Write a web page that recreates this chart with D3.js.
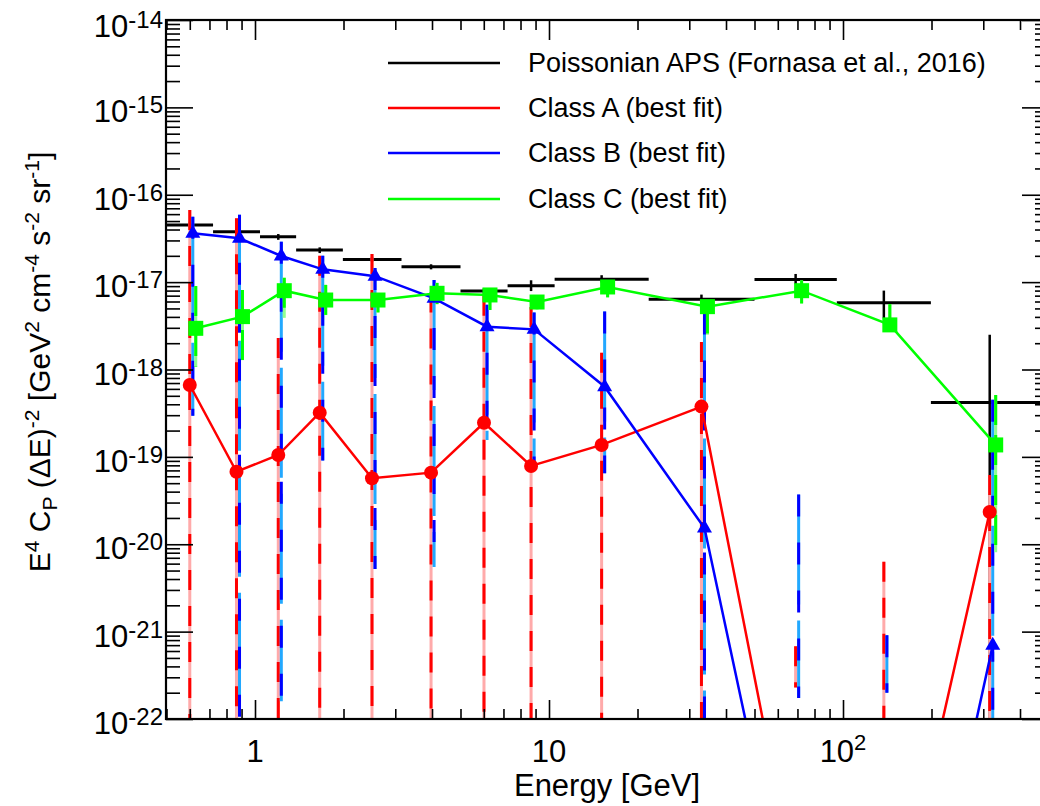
<!DOCTYPE html>
<html>
<head>
<meta charset="utf-8">
<script src="https://cdn.jsdelivr.net/npm/d3@7"></script>
<style>
body { margin: 0; background: #fff; }
text { font-family: "Liberation Sans", Arial, Helvetica, sans-serif; fill: #000; }
</style>
</head>
<body>
<script>
// energy bins [GeV]
const binLo = [0.5, 0.72, 1.04, 1.38, 1.99, 3.15, 5.0, 7.23, 10.45, 21.83, 50.0, 95.27, 199.05];
const binHi = [0.72, 1.04, 1.38, 1.99, 3.15, 5.0, 7.23, 10.45, 21.83, 50.0, 95.27, 199.05, 500];
const eCenter = [0.60, 0.865, 1.20, 1.66, 2.50, 3.97, 6.01, 8.69, 15.1, 33.0, 69.0, 137.7, 315.5];

// Poissonian APS (Fornasa et al. 2016)
const poisson   = [4.5e-17, 3.78e-17, 3.3e-17, 2.33e-17, 1.82e-17, 1.5e-17, 7.9e-18, 9.1e-18, 1.08e-17, 6.35e-18, 1.07e-17, 5.8e-18, 4.2e-19];
const poissonHi = [4.9e-17, 4.1e-17, 3.55e-17, 2.5e-17, 1.95e-17, 1.6e-17, 8.5e-18, 1.05e-17, 1.2e-17, 7.2e-18, 1.24e-17, 8.0e-18, 2.5e-18];
const poissonLo = [4.1e-17, 3.45e-17, 3.05e-17, 2.15e-17, 1.7e-17, 1.4e-17, 7.3e-18, 7.9e-18, 9.9e-18, 5.6e-18, 9.5e-18, 3.85e-18, null];

// best fits (null = lower end below the axis)
const classA   = [6.65e-19, 6.76e-20, 1.05e-19, 3.2e-19, 5.7e-20, 6.6e-20, 2.46e-19, 7.87e-20, 1.37e-19, 3.76e-19, 1.2e-24, 1.05e-25, 2.34e-20];
const classAHi = [6.7e-17, 5.4e-17, 2.3e-18, 2.0e-17, 2.1e-17, 7.6e-18, 7.0e-18, 5.2e-18, 1.55e-18, 2.07e-18, 6.8e-22, 6.3e-21, 6.2e-20];
const classALo = [null, null, null, null, null, null, null, null, null, null, 2.3e-22, null, null];

const classB   = [3.62e-17, 3.17e-17, 1.99e-17, 1.4e-17, 1.17e-17, 6.52e-18, 3.09e-18, 2.88e-18, 6.35e-19, 1.53e-20, 1.4e-25, 2e-27, 7.0e-22];
const classBHi = [5.6e-17, 5.9e-17, 2.9e-17, 2.0e-17, 1.45e-17, 1.06e-17, 5.5e-18, 4.5e-18, 4.6e-18, 4.5e-18, 3.7e-20, 9.1e-22, 4.5e-19];
const classBLo = [2.95e-19, null, 1.6e-22, 9.1e-20, 5.2e-21, 5.5e-21, 1.56e-19, 7.1e-20, 6.5e-20, null, 1.74e-22, 2.0e-22, null];

const classC   = [2.96e-18, 4.03e-18, 7.98e-18, 6.24e-18, 6.24e-18, 7.45e-18, 7.13e-18, 5.92e-18, 8.8e-18, 5.24e-18, 7.98e-18, 3.24e-18, 1.37e-19];
const classCHi = [9.0e-18, 8.1e-18, 1.12e-17, 9.3e-18, 7.5e-18, 9.8e-18, 8.5e-18, 7.0e-18, 1.05e-17, 5.7e-18, 1.05e-17, 5.6e-18, 5.1e-19];
const classCLo = [1.08e-18, 1.28e-18, 3.9e-18, 4.2e-18, 4.5e-18, 5.6e-18, 4.8e-18, 4.9e-18, 6.7e-18, 2.5e-18, 5.7e-18, 2.8e-18, 8.1e-21];

const legendLabels = ["Poissonian APS (Fornasa et al., 2016)", "Class A (best fit)", "Class B (best fit)", "Class C (best fit)"];
const yMajor = [-14, -15, -16, -17, -18, -19, -20, -21, -22];
const xMajor = [1, 10, 100];

const svg = d3.select("body").append("svg")
    .attr("width", 1040)
    .attr("height", 806);

const pLeft = 166, pRight = 1049, pTop = 20, pBottom = 719;

const x = d3.scaleLog().domain([0.5, 500]).range([pLeft + 0.5, pRight - 0.5]);
const y = d3.scaleLog().domain([1e-22, 1e-14]).range([pBottom, pTop]);

// lower ends that fall below the axis go to the bottom
const yb = v => (v === null ? pBottom + 5 : y(v));

svg.append("clipPath").attr("id", "plot")
    .append("rect")
    .attr("x", pLeft).attr("y", pTop)
    .attr("width", pRight - pLeft).attr("height", pBottom - pTop);

const plot = svg.append("g").attr("clip-path", "url(#plot)");

// offsets so the classes don't sit exactly on top of each other
const shiftB = 1.024, shiftC = 1.048;

// black bars: horizontal bin width + vertical error
plot.append("g").selectAll("line")
    .data(poisson)
    .join("line")
    .attr("x1", (d, i) => x(binLo[i]))
    .attr("x2", (d, i) => x(binHi[i]))
    .attr("y1", d => y(d))
    .attr("y2", d => y(d))
    .attr("stroke", "#000")
    .attr("stroke-width", 3);

plot.append("g").selectAll("line")
    .data(poisson)
    .join("line")
    .attr("x1", (d, i) => x(eCenter[i]))
    .attr("x2", (d, i) => x(eCenter[i]))
    .attr("y1", (d, i) => y(poissonHi[i]))
    .attr("y2", (d, i) => yb(poissonLo[i]))
    .attr("stroke", "#000")
    .attr("stroke-width", 2.5);

function errorBars(hi, lo, shift, light, dark, dash, lightDash) {
    const g = plot.append("g");
    g.selectAll("line.l")
        .data(hi)
        .join("line")
        .attr("class", "l")
        .attr("x1", (d, i) => x(eCenter[i] * shift))
        .attr("x2", (d, i) => x(eCenter[i] * shift))
        .attr("y1", d => y(d))
        .attr("y2", (d, i) => yb(lo[i]))
        .attr("stroke", light)
        .attr("stroke-width", 3)
        .attr("stroke-dasharray", lightDash);
    g.selectAll("line.d")
        .data(hi)
        .join("line")
        .attr("class", "d")
        .attr("x1", (d, i) => x(eCenter[i] * shift))
        .attr("x2", (d, i) => x(eCenter[i] * shift))
        .attr("y1", d => y(d))
        .attr("y2", (d, i) => yb(lo[i]))
        .attr("stroke", dark)
        .attr("stroke-width", 3)
        .attr("stroke-dasharray", dash);
}

errorBars(classAHi, classALo, 1, "#ffaaaa", "#ff0000", "20,16", null);
errorBars(classBHi, classBLo, shiftB, "#22a8ff", "#0000ff", "22,26", "110,16");
errorBars(classCHi, classCLo, shiftC, "#90ff90", "#00ff00", "30,10", null);

const line = d3.line();

function series(vals, shift, color) {
    const pts = vals.map((v, i) => [x(eCenter[i] * shift), y(v)]);
    plot.append("path")
        .attr("d", line(pts))
        .attr("fill", "none")
        .attr("stroke", color)
        .attr("stroke-width", 2.5);
    return pts;
}

const ptsA = series(classA, 1, "#ff0000");
plot.append("g").selectAll("circle")
    .data(ptsA)
    .join("circle")
    .attr("cx", d => d[0])
    .attr("cy", d => d[1])
    .attr("r", 7)
    .attr("fill", "#ff0000");

const ptsB = series(classB, shiftB, "#0000ff");
plot.append("g").selectAll("path")
    .data(ptsB)
    .join("path")
    .attr("d", d => `M${d[0]},${d[1] - 8.5}L${d[0] + 7.5},${d[1] + 4.5}L${d[0] - 7.5},${d[1] + 4.5}Z`)
    .attr("fill", "#0000ff");

const ptsC = series(classC, shiftC, "#00ff00");
plot.append("g").selectAll("rect")
    .data(ptsC)
    .join("rect")
    .attr("x", d => d[0] - 7.5)
    .attr("y", d => d[1] - 7.5)
    .attr("width", 15)
    .attr("height", 15)
    .attr("fill", "#00ff00");

// axes: ticks pointing inwards on all four sides
const xTicks = x.ticks(30);
const yTicks = y.ticks(30);
const isMajorX = v => xMajor.some(m => Math.abs(v - m) < 1e-9);
const isMajorY = v => Math.abs(Math.log10(v) - Math.round(Math.log10(v))) < 1e-6;

function tickAxis(axis, scale, vals, len, transform) {
    svg.append("g")
        .attr("transform", transform)
        .call(axis(scale).tickValues(vals).tickSize(len).tickFormat(""))
        .call(g => g.select(".domain").remove())
        .call(g => g.selectAll("line").attr("stroke", "#000").attr("stroke-width", 1.6));
}

tickAxis(d3.axisBottom, x, xTicks.filter(isMajorX), -19, `translate(0,${pBottom})`);
tickAxis(d3.axisBottom, x, xTicks.filter(v => !isMajorX(v)), -10, `translate(0,${pBottom})`);
tickAxis(d3.axisTop, x, xTicks.filter(isMajorX), -20, `translate(0,${pTop})`);
tickAxis(d3.axisTop, x, xTicks.filter(v => !isMajorX(v)), -10, `translate(0,${pTop})`);
tickAxis(d3.axisLeft, y, yTicks.filter(isMajorY), -27, `translate(${pLeft},0)`);
tickAxis(d3.axisLeft, y, yTicks.filter(v => !isMajorY(v)), -14, `translate(${pLeft},0)`);
tickAxis(d3.axisRight, y, yTicks.filter(isMajorY), -27, `translate(${pRight},0)`);
tickAxis(d3.axisRight, y, yTicks.filter(v => !isMajorY(v)), -14, `translate(${pRight},0)`);

svg.append("rect")
    .attr("x", pLeft).attr("y", pTop)
    .attr("width", pRight - pLeft).attr("height", pBottom - pTop)
    .attr("fill", "none")
    .attr("stroke", "#000")
    .attr("stroke-width", 2.2);

// y tick labels 10^n
yMajor.forEach(e => {
    const ty = y(Math.pow(10, e)) + (e === -14 ? 17 : 15);
    const t = svg.append("text")
        .attr("x", 163)
        .attr("y", ty)
        .attr("text-anchor", "end")
        .style("font-size", "31px");
    t.append("tspan").text("10");
    t.append("tspan").attr("dy", -9).style("font-size", "24px").text(e);
});

// x tick labels
svg.append("text").attr("x", x(1)).attr("y", 762).attr("text-anchor", "middle")
    .style("font-size", "31px").text("1");
svg.append("text").attr("x", x(10)).attr("y", 762).attr("text-anchor", "middle")
    .style("font-size", "31px").text("10");
const t100 = svg.append("text").attr("x", x(100)).attr("y", 762).attr("text-anchor", "middle")
    .style("font-size", "31px");
t100.append("tspan").text("10");
t100.append("tspan").attr("dy", -12).style("font-size", "22px").text("2");

// axis titles
svg.append("text")
    .attr("x", 607).attr("y", 796)
    .attr("text-anchor", "middle")
    .style("font-size", "31px")
    .text("Energy [GeV]");

const yt = svg.append("text")
    .attr("transform", "translate(50,362) rotate(-90)")
    .attr("text-anchor", "middle")
    .style("font-size", "30px");
// [text, level]: 0 normal, -1 superscript, 1 subscript
const parts = [
    ["E", 0], ["4", -1], [" C", 0], ["P", 1], [" (\u0394E)", 0], ["-2", -1],
    [" [GeV", 0], ["2", -1], [" cm", 0], ["-4", -1], [" s", 0], ["-2", -1],
    [" sr", 0], ["-1", -1], ["]", 0]
];
const offs = { "-1": -11, "0": 0, "1": 7 };
let level = 0;
parts.forEach(([s, l]) => {
    yt.append("tspan")
        .attr("dy", l === level ? null : offs[l] - offs[level])
        .style("font-size", l === 0 ? "30px" : "21px")
        .text(s);
    level = l;
});

// legend
const legendColors = ["#000", "#ff0000", "#0000ff", "#00ff00"];
const legendY = [63, 108, 153, 199];
legendLabels.forEach((lab, i) => {
    svg.append("line")
        .attr("x1", 388).attr("x2", 500)
        .attr("y1", legendY[i]).attr("y2", legendY[i])
        .attr("stroke", legendColors[i])
        .attr("stroke-width", 2.5);
    svg.append("text")
        .attr("x", 528).attr("y", legendY[i] + 9)
        .style("font-size", "27px")
        .text(lab);
});
</script>
</body>
</html>
